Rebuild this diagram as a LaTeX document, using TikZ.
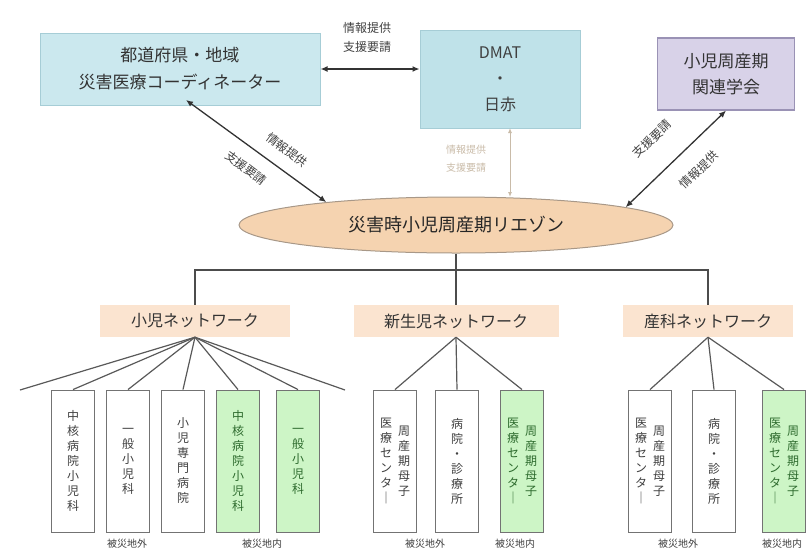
\documentclass[tikz,border=0pt]{standalone}
\usepackage{fontspec}
\setmainfont{Noto Sans CJK JP}
\usetikzlibrary{arrows.meta,shapes.geometric}
\definecolor{cyanbox}{HTML}{CBE8EE}
\definecolor{cyanedge}{HTML}{A6CDD6}
\definecolor{dmatbox}{HTML}{BFE2E9}
\definecolor{lavbox}{HTML}{D8D2E8}
\definecolor{lavedge}{HTML}{9A92B5}
\definecolor{peach}{HTML}{F5D3B0}
\definecolor{peachedge}{HTML}{A89888}
\definecolor{netfill}{HTML}{FBE4D0}
\definecolor{greenbox}{HTML}{CDF5C6}
\definecolor{greentext}{HTML}{2E6B2E}
\definecolor{faint}{HTML}{C9BBA8}
\begin{document}
\begin{tikzpicture}[x=1pt,y=-1pt,
  conn/.style={draw=black!80, line width=1.3pt, {Latex[length=7pt,width=6pt]}-{Latex[length=7pt,width=6pt]}},
  treeline/.style={draw=black!70, line width=1.3pt},
  fanline/.style={draw=black!65, line width=1.2pt},
  lbl/.style={font=\fontsize{12}{19}\selectfont, text=black!75, align=center, inner sep=0pt},
  netlbl/.style={fill=netfill, draw=none, minimum height=32, font=\fontsize{16}{18}\selectfont, text=black!80},
  vbox/.style={draw=black!55, line width=0.9pt, fill=white, minimum width=43, minimum height=142, inner sep=0pt},
  gbox/.style={vbox, fill=greenbox},
  vt/.style={font=\fontsize{12}{15}\selectfont, align=center, inner sep=0pt, text=black!75},
  gvt/.style={vt, text=greentext},
  area/.style={font=\fontsize{10}{12}\selectfont, text=black!75, inner sep=0pt}
]
\useasboundingbox (0,0) rectangle (807,550);

% top boxes
\node[draw=cyanedge, fill=cyanbox, line width=1pt, minimum width=280, minimum height=72, align=center,
      font=\fontsize{17}{27}\selectfont, text=black!80] (coord) at (180,69) {都道府県・地域\\災害医療コーディネーター};
\node[draw=cyanedge, fill=dmatbox, line width=1pt, minimum width=160, minimum height=98, align=center,
      font=\fontsize{16}{26}\selectfont, text=black!75] (dmat) at (500,79) {DMAT\\・\\日赤};
\node[draw=lavedge, fill=lavbox, line width=1.2pt, minimum width=137, minimum height=72, align=center,
      font=\fontsize{17}{26}\selectfont, text=black!80] (toprt) at (726,74) {小児周産期\\関連学会};

% liaison ellipse
\node[ellipse, draw=peachedge, fill=peach, line width=1pt, minimum width=434, minimum height=56,
      font=\fontsize{18}{20}\selectfont, text=black!85] (liaison) at (456,225) {災害時小児周産期リエゾン};

% arrows
\draw[conn] (coord.east) -- (coord.east -| dmat.west);
\node[lbl] (toplbl) at (367,37) {情報提供\\支援要請};

\coordinate (ldiag) at (186,100);
\draw[conn] (ldiag) -- (liaison.170);
\node[lbl, rotate=-37] (l1) at (287,150) {情報提供};
\node[lbl, rotate=-37] (l2) at (246,168) {支援要請};

\draw[conn] (liaison.6) -- (toprt.south);
\node[lbl, rotate=44] (r1) at (652,139) {支援要請};
\node[lbl, rotate=44] (r2) at (699,170) {情報提供};

\coordinate (dtop) at (510,128);
\coordinate (dbot) at (510,197);
\draw[draw=faint, line width=1pt, {Latex[length=5pt,width=4pt]}-{Latex[length=5pt,width=4pt]}] (dtop) -- (dbot);
\node[lbl, text=faint, font=\fontsize{10}{18}\selectfont] (mlbl) at (466,159) {情報提供\\支援要請};

% network labels
\node[netlbl, minimum width=190] (net1) at (195,321) {小児ネットワーク};
\node[netlbl, minimum width=205] (net2) at (456,321) {新生児ネットワーク};
\node[netlbl, minimum width=170] (net3) at (708,321) {産科ネットワーク};

\coordinate (j) at (456,270);
\draw[treeline] (liaison.south) -- (j);
\draw[treeline] (net1.north) -- (net1.north |- j) -- (net3.north |- j) -- (net3.north);
\draw[treeline] (j) -- (net2.north);

% small boxes: pediatric
\node[vbox] (p1) at (73,461) {};
\node[vbox] (p2) at (128,461) {};
\node[vbox] (p3) at (183,461) {};
\node[gbox] (p4) at (238,461) {};
\node[gbox] (p5) at (298,461) {};
\node[vt] at (p1) {中\\核\\病\\院\\小\\児\\科};
\node[vt] at (p2) {一\\般\\小\\児\\科};
\node[vt] at (p3) {小\\児\\専\\門\\病\\院};
\node[gvt] at (p4) {中\\核\\病\\院\\小\\児\\科};
\node[gvt] at (p5) {一\\般\\小\\児\\科};
\coordinate (pl) at (20,390);
\coordinate (pr) at (345,390);
\foreach \b in {pl,p1,p2,p3,p4,p5,pr}{
  \draw[fanline] (net1.south) -- (\b.north);
}

% neonatal
\node[vbox] (n1) at (395,461) {};
\node[vbox] (n2) at (457,461) {};
\node[gbox] (n3) at (522,461) {};
\node[vt] at ([xshift=9]n1.center) {周\\産\\期\\母\\子};
\node[vt] at ([xshift=-9]n1.center) {医\\療\\セ\\ン\\タ\\｜};
\node[vt] at (n2) {病\\院\\・\\診\\療\\所};
\node[gvt] at ([xshift=9]n3.center) {周\\産\\期\\母\\子};
\node[gvt] at ([xshift=-9]n3.center) {医\\療\\セ\\ン\\タ\\｜};
\foreach \b in {n1,n2,n3}{
  \draw[fanline] (net2.south) -- (\b.north);
}

% obstetric
\node[vbox] (o1) at (650,461) {};
\node[vbox] (o2) at (714,461) {};
\node[gbox] (o3) at (784,461) {};
\node[vt] at ([xshift=9]o1.center) {周\\産\\期\\母\\子};
\node[vt] at ([xshift=-9]o1.center) {医\\療\\セ\\ン\\タ\\｜};
\node[vt] at (o2) {病\\院\\・\\診\\療\\所};
\node[gvt] at ([xshift=9]o3.center) {周\\産\\期\\母\\子};
\node[gvt] at ([xshift=-9]o3.center) {医\\療\\セ\\ン\\タ\\｜};
\foreach \b in {o1,o2,o3}{
  \draw[fanline] (net3.south) -- (\b.north);
}

% area labels
\node[area] (a1) at (127,544) {被災地外};
\node[area] (a2) at (262,544) {被災地内};
\node[area] (a3) at (425,544) {被災地外};
\node[area] (a4) at (515,544) {被災地内};
\node[area] (a5) at (678,544) {被災地外};
\node[area] (a6) at (782,544) {被災地内};
\end{tikzpicture}
\end{document}
